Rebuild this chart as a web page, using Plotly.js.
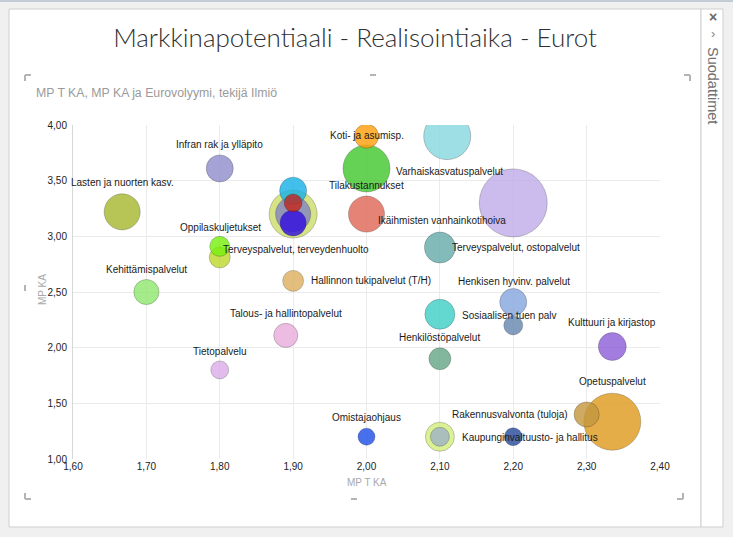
<!DOCTYPE html>
<html>
<head>
<meta charset="utf-8">
<script src="https://cdn.plot.ly/plotly-3.0.1.min.js"></script>
<style>
  html, body { margin: 0; padding: 0; background: #f0f0f0; }
</style>
</head>
<body>
<div id="chart" style="width:733px;height:537px"></div>
<script>
// bubble data: MP T KA (x), MP KA (y), Eurovolyymi (size)
const names = [
  'Lasten ja nuorten kasv.', 'Infran rak ja ylläpito', '', '', '', '', '',
  'Koti- ja asumisp.', 'Tilakustannukset', 'Varhaiskasvatuspalvelut',
  'Ikäihmisten vanhainkotihoiva', '', 'Terveyspalvelut, ostopalvelut',
  'Oppilaskuljetukset', 'Terveyspalvelut, terveydenhuolto', 'Kehittämispalvelut',
  'Hallinnon tukipalvelut (T/H)', 'Talous- ja hallintopalvelut', 'Tietopalvelu',
  'Omistajaohjaus', 'Henkisen hyvinv. palvelut', 'Sosiaalisen tuen palv', '',
  'Kulttuuri ja kirjastop', 'Henkilöstöpalvelut', 'Opetuspalvelut',
  'Rakennusvalvonta (tuloja)', 'Kaupunginvaltuusto- ja hallitus', '', ''
];
const mpTKa = [
  1.667, 1.80, 1.90, 1.90, 1.90, 1.90, 1.90,
  2.00, 2.00, 2.11,
  2.00, 2.20, 2.10,
  1.80, 1.80, 1.70,
  1.90, 1.89, 1.80,
  2.00, 2.20, 2.10, 2.20,
  2.335, 2.10, 2.335,
  2.30, 2.10, 2.10, 2.20
];
const mpKa = [
  3.22, 3.61, 3.20, 3.20, 3.41, 3.30, 3.12,
  3.90, 3.61, 3.90,
  3.20, 3.30, 2.90,
  2.91, 2.81, 2.50,
  2.60, 2.11, 1.80,
  1.20, 2.41, 2.30, 2.20,
  2.01, 1.90, 1.335,
  1.40, 1.20, 1.20, 1.20
];
const euroVolume = [
  13.0, 7.3, 23.0, 12.3, 7.3, 3.2, 6.8,
  5.8, 22.1, 22.1,
  13.0, 46.2, 9.6,
  4.0, 4.4, 6.3,
  4.4, 5.8, 3.2,
  2.9, 7.3, 9.0, 3.6,
  7.8, 4.8, 32.5,
  6.3, 8.4, 3.6, 3.2
];

const bubbleColors = [
  '#a8b832', '#9290cc', '#cedd6c', '#8486c2', '#1ab2e8', '#c4281e', '#3410e0',
  '#ffa010', '#44c830', '#88d8e0',
  '#e06a58', '#c0aeea', '#68acac',
  '#78f010', '#c0d830', '#90e870',
  '#deb060', '#eaaedc', '#dcaeea',
  '#2050e8', '#88a8e0', '#40d0c8', '#6888b0',
  '#9060d8', '#68a888', '#e09c20',
  '#c49840', '#d4ee80', '#a0b4c4', '#2a4c9c'
];

// label placement per bubble: [xanchor, dx px, dy px]
const labelPlace = [
  ['center', 0, 29], ['center', 0, 24], null, null, null, null, null,
  ['center', 0, 1], ['center', 0, -17], ['center', 2, -35],
  ['left', 9, -6], null, ['left', 10, 0],
  ['center', 1, 19], ['left', 1, 8], ['center', 0, 23],
  ['left', 16, 0], ['center', 0, 22], ['center', 0, 18],
  ['center', 0, 19], ['center', 1, 21], ['left', 20, -1], null,
  ['center', 0, 24], ['center', 0, 21], ['center', 0, 40],
  ['right', -17, 0], ['left', 20, -1], null, null
];

// draw big bubbles first so small ones stay visible
const order = euroVolume.map((v, i) => i).sort((a, b) => euroVolume[b] - euroVolume[a]);
const maxDiameter = 68;
const maxVol = Math.max(...euroVolume);

const trace = {
  type: 'scatter',
  mode: 'markers',
  x: order.map(i => mpTKa[i]),
  y: order.map(i => mpKa[i]),
  text: order.map(i => names[i]),
  hoverinfo: 'text',
  marker: {
    size: order.map(i => euroVolume[i]),
    sizemode: 'area',
    sizeref: 2 * maxVol / (maxDiameter * maxDiameter),
    color: order.map(i => bubbleColors[i]),
    opacity: 0.82,
    line: { color: 'rgba(0,0,0,0.25)', width: 1 }
  }
};

// pixel -> paper helpers (plot area 73..660 x 125..459)
const L = 73, R = 660, T = 125, B = 459;
const px = v => (v - L) / (R - L);
const py = v => (B - v) / (B - T);

const labelFont = { family: 'Liberation Sans, Arial, sans-serif', size: 10, color: '#1a1a1a' };

const annotations = [];
names.forEach((n, i) => {
  const p = labelPlace[i];
  if (!p || !n) return;
  annotations.push({
    x: mpTKa[i], y: mpKa[i], xref: 'x', yref: 'y',
    text: n, showarrow: false,
    xanchor: p[0], yanchor: 'middle',
    xshift: p[1], yshift: p[2],
    font: labelFont
  });
});

const greyFont = (size, color) => ({ family: 'Liberation Sans, Arial, sans-serif', size: size, color: color });
annotations.push(
  { xref: 'paper', yref: 'paper', x: px(34), y: py(93), xanchor: 'left', yanchor: 'middle',
    text: 'MP T KA, MP KA ja Eurovolyymi, tekijä Ilmiö', showarrow: false, font: greyFont(12.3, '#9a9a9a') },
  { xref: 'paper', yref: 'paper', x: px(367), y: py(483), xanchor: 'center', yanchor: 'middle',
    text: 'MP T KA', showarrow: false, font: greyFont(10, '#a8a8a8') },
  { xref: 'paper', yref: 'paper', x: px(42), y: py(290), xanchor: 'center', yanchor: 'middle',
    text: 'MP KA', textangle: -90, showarrow: false, font: greyFont(10, '#a8a8a8') },
  { xref: 'paper', yref: 'paper', x: px(713), y: py(17), xanchor: 'center', yanchor: 'middle',
    text: '<b>×</b>', showarrow: false, font: greyFont(14, '#666666') },
  { xref: 'paper', yref: 'paper', x: px(713), y: py(33), xanchor: 'center', yanchor: 'middle',
    text: '›', showarrow: false, font: greyFont(13, '#888888') },
  { xref: 'paper', yref: 'paper', x: px(713), y: py(85), xanchor: 'center', yanchor: 'middle',
    text: 'Suodattimet', textangle: 90, showarrow: false, font: greyFont(14.5, '#707070') }
);

const rectPx = (x0, y0, x1, y1, fill, line) => ({
  type: 'rect', xref: 'paper', yref: 'paper', layer: 'below',
  x0: px(x0), x1: px(x1), y0: py(y0), y1: py(y1),
  fillcolor: fill, line: { color: line, width: line ? 1 : 0 }
});
const linePx = (x0, y0, x1, y1) => ({
  type: 'line', xref: 'paper', yref: 'paper',
  x0: px(x0), x1: px(x1), y0: py(y0), y1: py(y1),
  line: { color: '#b4b4b4', width: 2 }
});

const shapes = [
  rectPx(0, 0, 733, 2, '#c2ccd6', null),
  rectPx(9, 9, 701, 527, '#ffffff', '#cfcfcf'),
  rectPx(701, 9, 723, 527, '#ffffff', '#cfcfcf'),
  // resize handles of the visual
  linePx(25, 75, 31, 75), linePx(25, 75, 25, 81),
  linePx(684, 75, 690, 75), linePx(690, 75, 690, 81),
  linePx(25, 499, 31, 499), linePx(25, 493, 25, 499),
  linePx(677, 499, 683, 499), linePx(683, 493, 683, 499),
  linePx(370, 75, 376, 75), linePx(25, 285, 25, 291), linePx(351, 499, 357, 499)
];

const layout = {
  width: 733,
  height: 537,
  margin: { l: L, r: 733 - R, t: T, b: 537 - B },
  paper_bgcolor: '#f0f0f0',
  plot_bgcolor: '#ffffff',
  separators: ', ',
  showlegend: false,
  title: {
    text: 'Markkinapotentiaali - Realisointiaika - Eurot',
    xref: 'container', yref: 'container',
    x: 355 / 733, y: 1 - 38 / 537, xanchor: 'center', yanchor: 'middle',
    font: { family: 'Lato, Open Sans, sans-serif', size: 26, weight: 300, color: '#303030' }
  },
  xaxis: {
    range: [1.6, 2.4], dtick: 0.1, tick0: 1.6, tickformat: '.2f',
    showgrid: true, gridcolor: '#ebebeb', zeroline: false, showline: false,
    ticks: '', tickfont: { family: 'Liberation Sans, Arial, sans-serif', size: 10, color: '#222' },
    fixedrange: true
  },
  yaxis: {
    range: [1, 4], dtick: 0.5, tick0: 1, tickformat: '.2f',
    showgrid: true, gridcolor: '#ebebeb', zeroline: false,
    showline: true, linecolor: '#d8d8d8', linewidth: 1,
    ticks: '', ticklabelstandoff: 3,
    tickfont: { family: 'Liberation Sans, Arial, sans-serif', size: 10, color: '#222' },
    fixedrange: true
  },
  annotations: annotations,
  shapes: shapes
};

Plotly.newPlot('chart', [trace], layout, { displayModeBar: false, staticPlot: true });
</script>
</body>
</html>
